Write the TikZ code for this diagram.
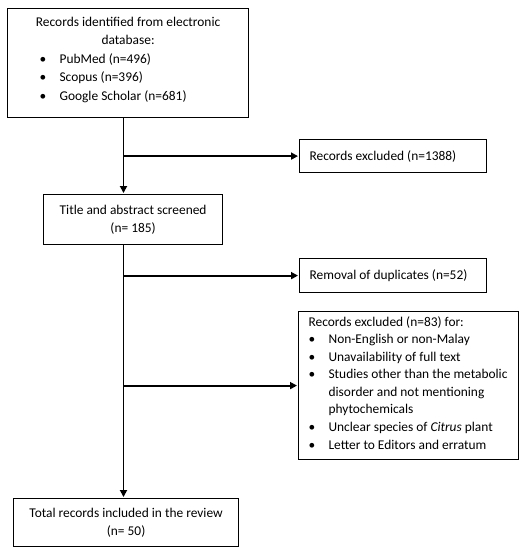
\documentclass[tikz,border=0pt]{standalone}
\usepackage{fontspec}
\setmainfont{Carlito}
\usetikzlibrary{arrows.meta}
\newcommand{\lsk}[1]{\normalbaselineskip=#1\baselineskip=#1\relax}
\newcommand{\bitem}[2]{\par\noindent\hspace*{#1}\makebox[20pt][l]{\textbullet}\parbox[t]{185pt}{\raggedright\strut #2\strut}}
\begin{document}
\begin{tikzpicture}[x=1pt,y=-1pt,
  box/.style={draw=black, line width=1.2pt, inner sep=0pt, anchor=north west, font=\fontsize{13.4}{17.3}\selectfont},
  flow/.style={line width=1.8pt, -{Triangle[length=7pt,width=7pt]}, shorten >=1pt}]
\useasboundingbox (0,0) rectangle (523,550);
\coordinate (m) at (123.5,0);
% boxes
\node[box, minimum width=241pt, minimum height=109pt] (db) at (7,8)
  {\lsk{18.5pt}\parbox[c][109pt][c]{241pt}{\centering Records identified from electronic\\ database:\par
   \raggedright
   \bitem{32pt}{PubMed (n=496)}
   \bitem{32pt}{Scopus (n=396)}
   \bitem{32pt}{Google Scholar (n=681)}\par\vspace{4pt}}};
\node[box, minimum width=187pt, minimum height=33pt] (ex1) at (299,139)
  {\parbox[c][33pt][c]{187pt}{\hspace*{10pt}Records excluded (n=1388)}};
\node[box, minimum width=179pt, minimum height=50pt] (ts) at (43,194)
  {\lsk{18.5pt}\parbox[c][50pt][c]{179pt}{\centering Title and abstract screened\\ (n= 185)}};
\node[box, minimum width=187pt, minimum height=34pt] (dup) at (299,258)
  {\parbox[c][34pt][c]{187pt}{\hspace*{10pt}Removal of duplicates (n=52)}};
\node[box, minimum width=220pt, minimum height=148pt] (ex2) at (298,311)
  {\lsk{17.4pt}\parbox[c][148pt][c]{220pt}{\raggedright
   \noindent\hspace*{10pt}Records excluded (n=83) for:
   \bitem{10pt}{Non-English or non-Malay}
   \bitem{10pt}{Unavailability of full text}
   \bitem{10pt}{Studies other than the metabolic\\ disorder and not mentioning\\ phytochemicals}
   \bitem{10pt}{Unclear species of \textit{Citrus} plant}
   \bitem{10pt}{Letter to Editors and erratum}\par}};
\node[box, minimum width=225pt, minimum height=48pt] (tot) at (13,498)
  {\lsk{18.5pt}\parbox[c][48pt][c]{225pt}{\centering Total records included in the review\\ (n= 50)}};
% connectors
\draw[flow] (db.south -| m) -- (ts.north -| m);
\draw[flow] (ts.south -| m) -- (tot.north -| m);
\draw[flow] (m |- ex1.west) -- (ex1.west);
\draw[flow] (m |- dup.west) -- (dup.west);
\draw[flow] (m |- ex2.west) -- (ex2.west);
\end{tikzpicture}
\end{document}
